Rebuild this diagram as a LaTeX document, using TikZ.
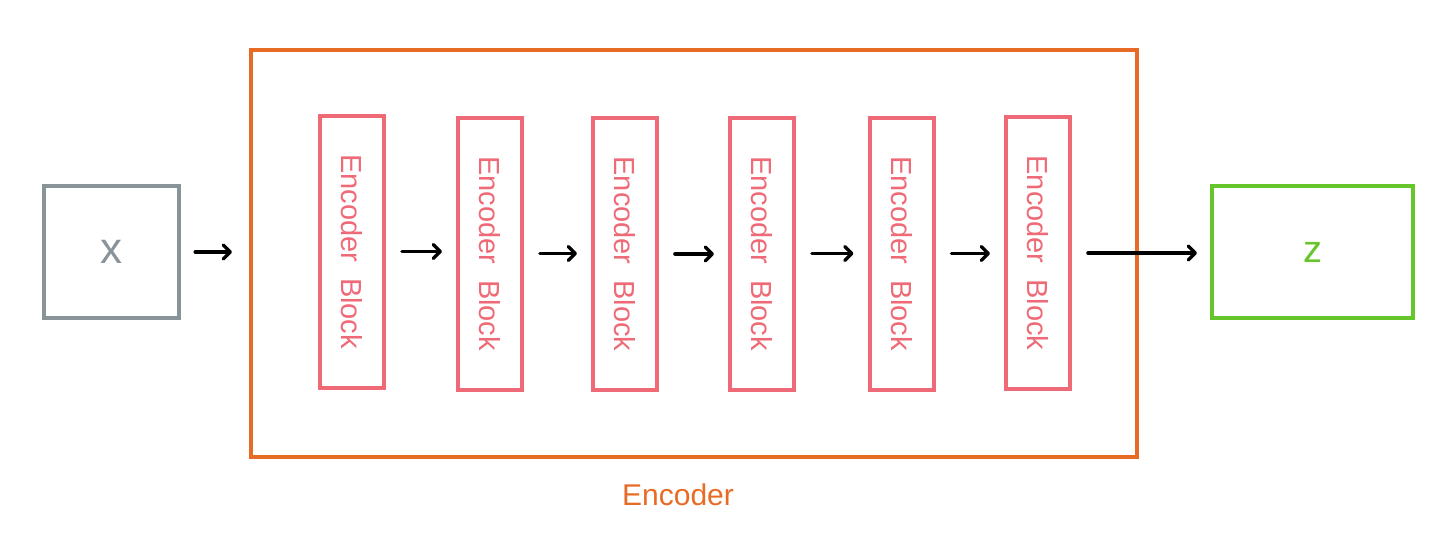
\documentclass[tikz,border=0pt]{standalone}
\usepackage{fontspec}
\setmainfont{Liberation Sans}
\usetikzlibrary{arrows.meta}
\definecolor{xgray}{HTML}{88939A}
\definecolor{encorange}{HTML}{E86B25}
\definecolor{blockpink}{HTML}{EE6A76}
\definecolor{zgreen}{HTML}{66C52A}
\tikzset{
  box/.style={draw, rectangle, inner sep=0pt},
  xbox/.style={box, draw=xgray, line width=4.5pt, minimum width=135pt, minimum height=132pt, text=xgray, font=\fontsize{44}{50}\selectfont},
  encbox/.style={box, draw=encorange, line width=4pt, minimum width=886pt, minimum height=407pt},
  blockbox/.style={box, draw=blockpink, line width=4pt, minimum width=64pt, minimum height=272pt},
  blocktext/.style={text=blockpink, rotate=-90, font=\fontsize{29}{32}\selectfont},
  zbox/.style={box, draw=zgreen, line width=4pt, minimum width=201pt, minimum height=132pt, text=zgreen, font=\fontsize{38}{42}\selectfont},
  flow/.style={draw=black, line width=3.6pt, line cap=round, -{Straight Barb[length=7pt,width=14pt,line width=3.4pt,round]}},
}
\begin{document}
\begin{tikzpicture}[x=1pt,y=-1pt]
\useasboundingbox (0,0) rectangle (1456,535);
\node[xbox] (x) at (111.5,252) {x};
\node[encbox] (enc) at (694,253.5) {};
\node[encorange, font=\fontsize{30}{34}\selectfont] (enclabel) at (678,495) {Encoder};
\node[blockbox] (b1) at (352,251.5) {};
\node[blockbox] (b2) at (490,253.5) {};
\node[blockbox] (b3) at (625,254) {};
\node[blockbox] (b4) at (762,253.5) {};
\node[blockbox] (b5) at (901.5,253.5) {};
\node[blockbox] (b6) at (1038,253) {};
\foreach \i in {1,...,6} {
  \node[blocktext] (t\i) at (b\i) {Encoder\hspace{16pt}Block};
}
\node[zbox] (z) at (1312.5,252) {z};
\coordinate (encin) at (enc.west |- x.east);
\draw[flow, shorten <=14pt, shorten >=17pt] (x.east) -- (encin);
\foreach \a/\b in {b1/b2,b2/b3,b3/b4,b4/b5,b5/b6} {
  \draw[flow, shorten <=16pt, shorten >=14pt] (\a.east) -- (\a.east -| \b.west);
}
\draw[flow, shorten <=16pt, shorten >=13pt] (b6.east) -- (b6.east -| z.west);
\end{tikzpicture}
\end{document}
